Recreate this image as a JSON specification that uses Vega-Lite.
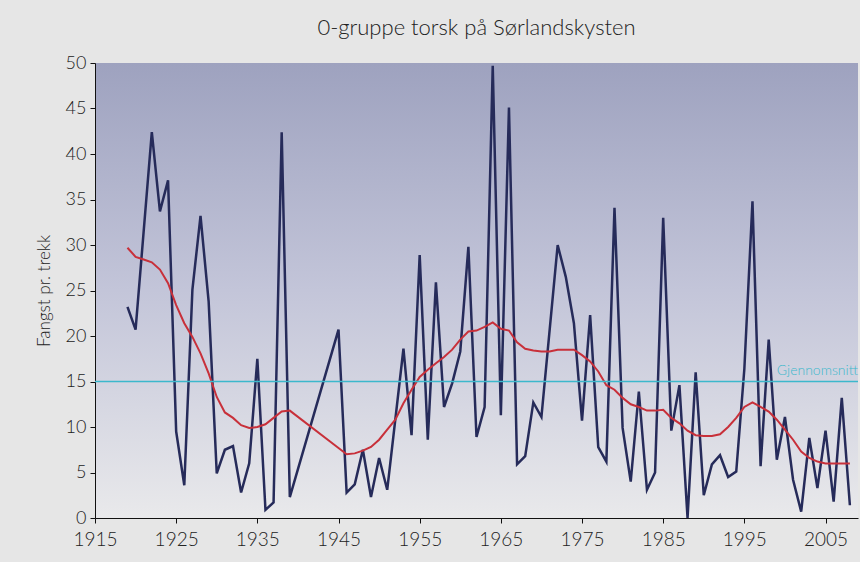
{
  "$schema": "https://vega.github.io/schema/vega-lite/v6.json",
  "width": 763,
  "height": 455,
  "autosize": {"type": "none"},
  "padding": {"left": 95, "top": 63, "right": 2, "bottom": 44},
  "background": "#e6e6e6",
  "title": {
    "text": "0-gruppe torsk på Sørlandskysten",
    "font": "Lato",
    "fontSize": 22,
    "fontWeight": 300,
    "color": "#222222",
    "anchor": "middle",
    "offset": 14
  },
  "config": {
    "view": {
      "stroke": null,
      "fill": {
        "gradient": "linear",
        "x1": 0, "y1": 0, "x2": 0, "y2": 1,
        "stops": [
          {"offset": 0, "color": "#9ea2bf"},
          {"offset": 0.5, "color": "#c3c5d9"},
          {"offset": 1, "color": "#e9e9eb"}
        ]
      }
    },
    "axis": {
      "labelFont": "Lato",
      "titleFont": "Lato",
      "labelColor": "#222222",
      "titleColor": "#222222",
      "domainColor": "#111111",
      "tickColor": "#111111",
      "grid": false
    }
  },
  "datasets": {
    "obs": [
      {"year": 1919, "catch": 23.2}, {"year": 1920, "catch": 20.7}, {"year": 1922, "catch": 42.4},
      {"year": 1923, "catch": 33.7}, {"year": 1924, "catch": 37.1}, {"year": 1925, "catch": 9.5},
      {"year": 1926, "catch": 3.6}, {"year": 1927, "catch": 25.1}, {"year": 1928, "catch": 33.2},
      {"year": 1929, "catch": 23.8}, {"year": 1930, "catch": 4.9}, {"year": 1931, "catch": 7.5},
      {"year": 1932, "catch": 7.9}, {"year": 1933, "catch": 2.8}, {"year": 1934, "catch": 6.0},
      {"year": 1935, "catch": 17.5}, {"year": 1936, "catch": 0.9}, {"year": 1937, "catch": 1.7},
      {"year": 1938, "catch": 42.4}, {"year": 1939, "catch": 2.3}, {"year": 1945, "catch": 20.7},
      {"year": 1946, "catch": 2.8}, {"year": 1947, "catch": 3.7}, {"year": 1948, "catch": 7.5},
      {"year": 1949, "catch": 2.3}, {"year": 1950, "catch": 6.6}, {"year": 1951, "catch": 3.1},
      {"year": 1953, "catch": 18.6}, {"year": 1954, "catch": 9.1}, {"year": 1955, "catch": 28.9},
      {"year": 1956, "catch": 8.6}, {"year": 1957, "catch": 25.9}, {"year": 1958, "catch": 12.2},
      {"year": 1959, "catch": 14.8}, {"year": 1960, "catch": 18.3}, {"year": 1961, "catch": 29.8},
      {"year": 1962, "catch": 8.9}, {"year": 1963, "catch": 12.2}, {"year": 1964, "catch": 49.7},
      {"year": 1965, "catch": 11.3}, {"year": 1966, "catch": 45.1}, {"year": 1967, "catch": 5.9},
      {"year": 1968, "catch": 6.8}, {"year": 1969, "catch": 12.7}, {"year": 1970, "catch": 11.1},
      {"year": 1972, "catch": 30.0}, {"year": 1973, "catch": 26.5}, {"year": 1974, "catch": 21.4},
      {"year": 1975, "catch": 10.7}, {"year": 1976, "catch": 22.3}, {"year": 1977, "catch": 7.8},
      {"year": 1978, "catch": 6.2}, {"year": 1979, "catch": 34.1}, {"year": 1980, "catch": 9.9},
      {"year": 1981, "catch": 4.0}, {"year": 1982, "catch": 13.9}, {"year": 1983, "catch": 3.1},
      {"year": 1984, "catch": 5.0}, {"year": 1985, "catch": 33.0}, {"year": 1986, "catch": 9.6},
      {"year": 1987, "catch": 14.6}, {"year": 1988, "catch": 0.0}, {"year": 1989, "catch": 16.0},
      {"year": 1990, "catch": 2.5}, {"year": 1991, "catch": 5.9}, {"year": 1992, "catch": 6.9},
      {"year": 1993, "catch": 4.5}, {"year": 1994, "catch": 5.1}, {"year": 1995, "catch": 16.4},
      {"year": 1996, "catch": 34.8}, {"year": 1997, "catch": 5.7}, {"year": 1998, "catch": 19.6},
      {"year": 1999, "catch": 6.4}, {"year": 2000, "catch": 11.1}, {"year": 2001, "catch": 4.2},
      {"year": 2002, "catch": 0.7}, {"year": 2003, "catch": 8.8}, {"year": 2004, "catch": 3.3},
      {"year": 2005, "catch": 9.6}, {"year": 2006, "catch": 1.8}, {"year": 2007, "catch": 13.2},
      {"year": 2008, "catch": 1.4}
    ],
    "smooth": [
      {"year": 1919, "v": 29.7}, {"year": 1920, "v": 28.7}, {"year": 1921, "v": 28.4},
      {"year": 1922, "v": 28.1}, {"year": 1923, "v": 27.3}, {"year": 1924, "v": 25.8},
      {"year": 1925, "v": 23.4}, {"year": 1926, "v": 21.4}, {"year": 1927, "v": 19.9},
      {"year": 1928, "v": 18.1}, {"year": 1929, "v": 15.9}, {"year": 1930, "v": 13.3},
      {"year": 1931, "v": 11.6}, {"year": 1932, "v": 11.0}, {"year": 1933, "v": 10.2},
      {"year": 1934, "v": 9.9}, {"year": 1935, "v": 10.0}, {"year": 1936, "v": 10.3},
      {"year": 1937, "v": 11.0}, {"year": 1938, "v": 11.7}, {"year": 1939, "v": 11.8},
      {"year": 1945, "v": 7.7}, {"year": 1946, "v": 7.0}, {"year": 1947, "v": 7.1},
      {"year": 1948, "v": 7.4}, {"year": 1949, "v": 7.8}, {"year": 1950, "v": 8.6},
      {"year": 1951, "v": 9.7}, {"year": 1952, "v": 10.8}, {"year": 1953, "v": 12.6},
      {"year": 1954, "v": 14.1}, {"year": 1955, "v": 15.5}, {"year": 1956, "v": 16.3},
      {"year": 1957, "v": 17.0}, {"year": 1958, "v": 17.7}, {"year": 1959, "v": 18.5},
      {"year": 1960, "v": 19.6}, {"year": 1961, "v": 20.5}, {"year": 1962, "v": 20.6},
      {"year": 1963, "v": 21.0}, {"year": 1964, "v": 21.5}, {"year": 1965, "v": 20.8},
      {"year": 1966, "v": 20.6}, {"year": 1967, "v": 19.3}, {"year": 1968, "v": 18.6},
      {"year": 1969, "v": 18.4}, {"year": 1970, "v": 18.3}, {"year": 1971, "v": 18.3},
      {"year": 1972, "v": 18.5}, {"year": 1973, "v": 18.5}, {"year": 1974, "v": 18.5},
      {"year": 1975, "v": 17.9}, {"year": 1976, "v": 17.2}, {"year": 1977, "v": 16.1},
      {"year": 1978, "v": 14.6}, {"year": 1979, "v": 14.1}, {"year": 1980, "v": 13.2},
      {"year": 1981, "v": 12.5}, {"year": 1982, "v": 12.2}, {"year": 1983, "v": 11.8},
      {"year": 1984, "v": 11.8}, {"year": 1985, "v": 11.9}, {"year": 1986, "v": 11.0},
      {"year": 1987, "v": 10.4}, {"year": 1988, "v": 9.6}, {"year": 1989, "v": 9.1},
      {"year": 1990, "v": 9.0}, {"year": 1991, "v": 9.0}, {"year": 1992, "v": 9.2},
      {"year": 1993, "v": 10.0}, {"year": 1994, "v": 11.0}, {"year": 1995, "v": 12.2},
      {"year": 1996, "v": 12.7}, {"year": 1997, "v": 12.2}, {"year": 1998, "v": 11.7},
      {"year": 1999, "v": 10.8}, {"year": 2000, "v": 9.7}, {"year": 2001, "v": 8.6},
      {"year": 2002, "v": 7.3}, {"year": 2003, "v": 6.6}, {"year": 2004, "v": 6.2},
      {"year": 2005, "v": 6.0}, {"year": 2006, "v": 6.0}, {"year": 2007, "v": 6.0},
      {"year": 2008, "v": 6.0}
    ],
    "avg": [{"year": 1999, "v": 15, "label": "Gjennomsnitt"}]
  },
  "layer": [
    {
      "data": {"name": "obs"},
      "mark": {"type": "line", "color": "#262b5a", "strokeWidth": 2.5, "strokeJoin": "miter", "clip": true},
      "encoding": {
        "x": {
          "field": "year", "type": "quantitative",
          "scale": {"domain": [1915, 2009], "nice": false, "zero": false},
          "axis": {
            "title": null,
            "values": [1915, 1925, 1935, 1945, 1955, 1965, 1975, 1985, 1995, 2005],
            "format": "d",
            "labelFontSize": 19,
            "labelFontWeight": 300,
            "labelPadding": 7,
            "tickSize": 5,
            "labelFlush": false
          }
        },
        "y": {
          "field": "catch", "type": "quantitative",
          "scale": {"domain": [0, 50], "nice": false},
          "axis": {
            "title": "Fangst pr. trekk",
            "titleFontSize": 17,
            "titleFontWeight": 300,
            "titlePadding": 12,
            "values": [0, 5, 10, 15, 20, 25, 30, 35, 40, 45, 50],
            "labelFontSize": 18,
            "labelFontWeight": 300,
            "labelPadding": 4,
            "tickSize": 5
          }
        }
      }
    },
    {
      "data": {"name": "smooth"},
      "mark": {"type": "line", "color": "#c8303a", "strokeWidth": 2},
      "encoding": {
        "x": {"field": "year", "type": "quantitative"},
        "y": {"field": "v", "type": "quantitative"}
      }
    },
    {
      "data": {"name": "avg"},
      "mark": {"type": "rule", "color": "#3cb8cc", "strokeWidth": 1.5},
      "encoding": {
        "y": {"field": "v", "type": "quantitative"}
      }
    },
    {
      "data": {"name": "avg"},
      "mark": {"type": "text", "align": "left", "baseline": "bottom", "dy": -4, "font": "Lato", "fontSize": 14, "fontWeight": 300, "color": "#3cb8cc"},
      "encoding": {
        "x": {"field": "year", "type": "quantitative"},
        "y": {"field": "v", "type": "quantitative"},
        "text": {"field": "label"}
      }
    }
  ]
}
